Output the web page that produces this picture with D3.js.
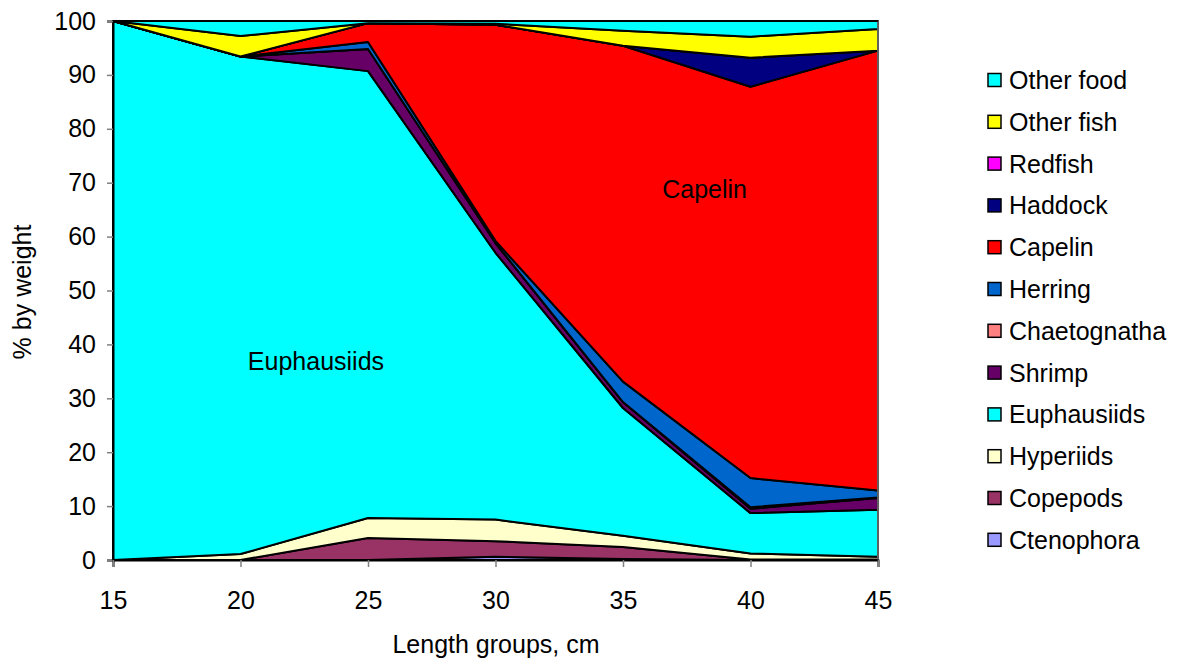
<!DOCTYPE html>
<html><head><meta charset="utf-8">
<script src="https://cdn.jsdelivr.net/npm/d3@7"></script>
<style>body{margin:0;background:#fff;} text{font-family:Arial,"Liberation Sans",sans-serif;fill:#000;}</style>
</head><body>
<svg id="c" width="1183" height="664"></svg>
<script>
const lengths = [15, 20, 25, 30, 35, 40, 45];
const yTicks = [0, 10, 20, 30, 40, 50, 60, 70, 80, 90, 100];
// bottom to top stacking order
const seriesNames = ["Ctenophora","Copepods","Hyperiids","Euphausiids","Shrimp","Chaetognatha","Herring","Capelin","Haddock","Redfish","Other fish","Other food"];
const seriesColors = ["#9999FF","#993366","#FFFFCC","#00FFFF","#660066","#FF8080","#0066CC","#FF0000","#000080","#FF00FF","#FFFF00","#00FFFF"];
const ctenophora   = [0, 0, 0, 0.6, 0.2, 0, 0];
const copepods     = [0, 0, 4.1, 2.9, 2.2, 0.1, 0.1];
const hyperiids    = [0, 1.1, 3.7, 4.0, 2.1, 1.1, 0.5];
const euphausiids  = [100, 92.3, 82.9, 49.5, 23.7, 7.5, 8.7];
const shrimp       = [0, 0, 4.1, 1.8, 1.1, 0.8, 2.2];
const chaetognatha = [0, 0, 0, 0, 0, 0.3, 0.1];
const herring      = [0, 0, 1.3, 0.4, 3.8, 5.4, 1.3];
const capelin      = [0, 0, 3.5, 40.1, 62.3, 72.6, 81.6];
const haddock      = [0, 0, 0, 0, 0, 5.4, 0];
const redfish      = [0, 0, 0, 0, 0, 0, 0];
const otherFish    = [0, 3.8, 0, 0.2, 2.8, 3.9, 4.0];
const otherFood    = [0, 2.8, 0.4, 0.5, 1.8, 2.9, 1.5];
const seriesValues = [ctenophora,copepods,hyperiids,euphausiids,shrimp,chaetognatha,herring,capelin,haddock,redfish,otherFish,otherFood];
const areaLabels = [{text:"Euphausiids", x:22.96, y:35.2}, {text:"Capelin", x:38.2, y:67.2}];

const rows = lengths.map((L,i)=>{const r={x:L}; seriesNames.forEach((n,k)=>r[n]=seriesValues[k][i]); return r;});
const stack = d3.stack().keys(seriesNames)(rows);

const FS = "25px";
const svg = d3.select("#c");
const m = {l:113, r:878, t:21, b:560};
const x = d3.scaleLinear().domain([15,45]).range([m.l, m.r]);
const y = d3.scaleLinear().domain([0,100]).range([m.b, m.t]);

const area = d3.area().x(d=>x(d.data.x)).y0(d=>y(d[0])).y1(d=>y(d[1]));
svg.append("g").selectAll("path").data(stack).join("path")
  .attr("d", area).attr("fill",(d,i)=>seriesColors[i])
  .attr("stroke","#000").attr("stroke-width",2).attr("stroke-linejoin","round");

// frame
svg.append("line").attr("x1",m.r).attr("x2",m.r).attr("y1",m.t).attr("y2",m.b).attr("stroke","#808080").attr("stroke-width",1.5);
svg.append("line").attr("x1",m.l).attr("x2",m.r).attr("y1",m.t).attr("y2",m.t).attr("stroke","#000").attr("stroke-width",1.5);

const yAxis = svg.append("g").attr("transform",`translate(${m.l},0)`)
  .call(d3.axisLeft(y).tickValues(yTicks).tickSize(6).tickPadding(11).tickFormat(d3.format("d")));
const xAxis = svg.append("g").attr("transform",`translate(0,${m.b})`)
  .call(d3.axisBottom(x).tickValues(lengths).tickSize(7).tickPadding(24).tickFormat(d3.format("d")));
[yAxis,xAxis].forEach(g=>{
  g.select(".domain").attr("stroke","#000").attr("stroke-width",2);
  g.selectAll(".tick line").attr("stroke","#808080").attr("stroke-width",1.5);
  g.selectAll(".tick text").style("font-size",FS).style("font-family","Arial, 'Liberation Sans', sans-serif");
});

svg.append("text").attr("x",496).attr("y",653).attr("text-anchor","middle").style("font-size",FS).text("Length groups, cm");
svg.append("text").attr("transform","translate(31,292) rotate(-90)").attr("text-anchor","middle").style("font-size",FS).text("% by weight");

svg.selectAll("text.al").data(areaLabels).join("text").attr("class","al")
  .attr("x",d=>x(d.x)).attr("y",d=>y(d.y)).attr("text-anchor","middle").style("font-size",FS).text(d=>d.text);

// legend, top to bottom reversed
const leg = svg.append("g");
const legItems = seriesNames.map((n,i)=>({n, c:seriesColors[i]})).reverse();
legItems.forEach((d,i)=>{
  const cy = 80 + i*41.8;
  leg.append("rect").attr("x",988).attr("y",cy-6.5).attr("width",13).attr("height",13)
    .attr("fill",d.c).attr("stroke","#000").attr("stroke-width",1.5);
  leg.append("text").attr("x",1009).attr("y",cy+9).style("font-size",FS).text(d.n);
});
</script>
</body></html>
